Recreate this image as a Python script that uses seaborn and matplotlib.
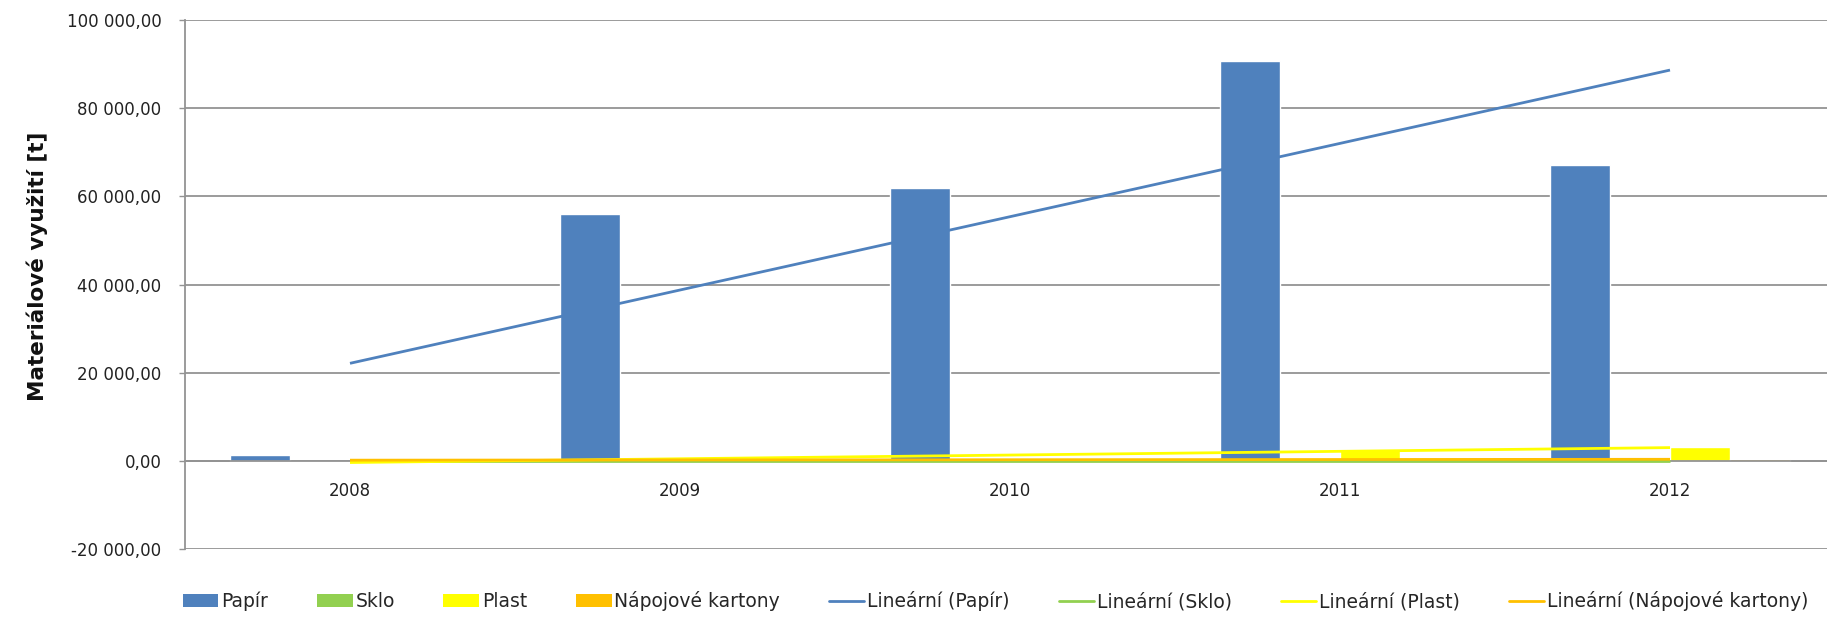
import numpy as np
import pandas as pd
import matplotlib
matplotlib.use("Agg")
import matplotlib.pyplot as plt
import seaborn as sns
from matplotlib.patches import Patch
from matplotlib.lines import Line2D
from matplotlib.ticker import FuncFormatter, FixedLocator

# data (t)
roky = ["2008", "2009", "2010", "2011", "2012"]
papir = [1300, 56000, 61800, 90700, 67100]
sklo = [0, 0, 0, 0, 0]
plast = [0, 250, 700, 2500, 3100]
kartony = [150, 200, 250, 300, 350]

materialy = ["Papír", "Sklo", "Plast", "Nápojové kartony"]
barvy = ["#4F81BD", "#92D050", "#FFFF00", "#FFC000"]
hodnoty = [papir, sklo, plast, kartony]

df = pd.DataFrame({
    "rok": roky * 4,
    "material": [m for m in materialy for _ in roky],
    "t": papir + sklo + plast + kartony,
})

sns.set_style("white")
plt.rcParams["font.family"] = ["DejaVu Sans"]

fig = plt.figure(figsize=(18.27, 6.36), dpi=100)
ax = fig.add_axes([185 / 1827, 1 - 549 / 636, 1650 / 1827, 529 / 636])

sns.barplot(data=df, x="rok", y="t", hue="material", hue_order=materialy,
            palette=barvy, saturation=1, width=0.73, dodge=True,
            errorbar=None, legend=False, ax=ax, zorder=2)

# linear trend lines (Excel "Lineární")
xs = np.arange(len(roky))
for vals, c in zip(hodnoty, barvy):
    k, q = np.polyfit(xs, vals, 1)
    ax.plot(xs, k * xs + q, color=c, lw=2, zorder=3, solid_capstyle="butt")

ax.set_xlim(-0.5, len(roky) - 0.5)
ax.set_ylim(-20000, 100000)
ax.yaxis.set_major_locator(FixedLocator(np.arange(-20000, 100001, 20000)))
ax.yaxis.set_major_formatter(FuncFormatter(
    lambda v, p: f"{v:,.2f}".replace(",", " ").replace(".", ",")))
ax.grid(axis="y", color="#939393", lw=1.3, zorder=0)
ax.grid(axis="x", visible=False)

for s in ["top", "right"]:
    ax.spines[s].set_visible(False)
ax.spines["left"].set_color("#939393")
ax.spines["left"].set_linewidth(1.3)
ax.spines["bottom"].set_position(("data", 0))
ax.spines["bottom"].set_color("#939393")
ax.spines["bottom"].set_linewidth(1.3)

ax.xaxis.set_minor_locator(FixedLocator(np.arange(-0.5, len(roky), 1.0)))
ax.tick_params(axis="x", which="major", length=0, pad=15, labelsize=12,
               labelcolor="#222222")
ax.tick_params(axis="x", which="minor", length=4.5, width=1, color="#939393",
               direction="out")
ax.tick_params(axis="y", length=4, width=1, color="#939393", pad=13,
               labelsize=12, labelcolor="#222222", left=True)

ax.set_xlabel("")
ax.set_ylabel("Materiálové využití [t]", fontsize=15.5, fontweight="bold",
              color="#111111")
ax.yaxis.set_label_coords(-0.083, 0.535)

handles = [Patch(facecolor=c, edgecolor="none") for c in barvy]
handles += [Line2D([0], [0], color=c, lw=2) for c in barvy]
labels = materialy + [f"Lineární ({m})" for m in materialy]
fig.legend(handles, labels, loc="center", bbox_to_anchor=(0.545, 0.055),
           ncol=8, frameon=False, fontsize=13.5, handlelength=1.9,
           handleheight=0.65, handletextpad=0.15, columnspacing=2.6)

fig.savefig("out.png", dpi=100)
